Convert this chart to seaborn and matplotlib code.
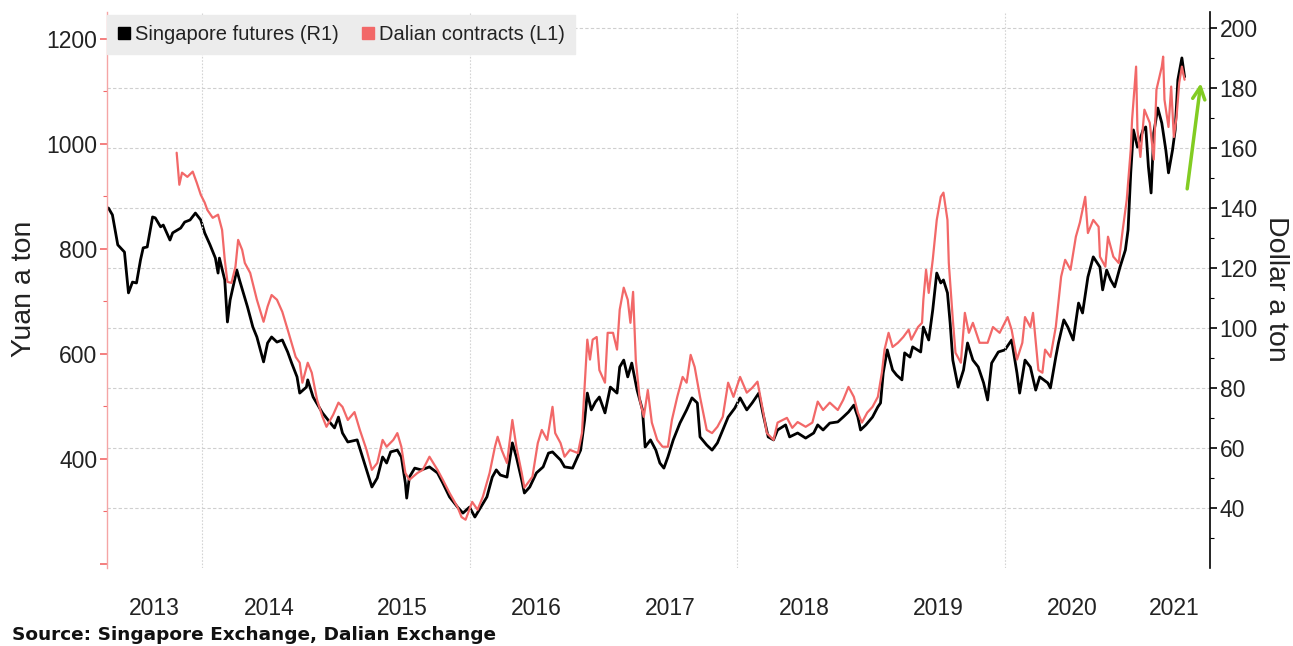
import pandas as pd
import matplotlib
matplotlib.use("Agg")
import matplotlib.pyplot as plt
from matplotlib.lines import Line2D
from matplotlib.ticker import FixedLocator, MultipleLocator
import seaborn as sns

# --- data (decimal year, price) ---
# Singapore iron ore futures, USD a ton (right axis)
sgx_points = [
    (2013.30, 140.0), (2013.33, 137.7), (2013.36, 130.3), (2013.37, 127.7), (2013.42, 125.3),
    (2013.45, 111.7), (2013.48, 115.3), (2013.51, 115.0), (2013.54, 122.7), (2013.56, 126.7),
    (2013.59, 127.0), (2013.63, 137.0), (2013.65, 136.7), (2013.69, 133.7), (2013.71, 134.3),
    (2013.76, 129.3), (2013.78, 131.7), (2013.84, 133.3), (2013.87, 135.3), (2013.91, 136.0),
    (2013.95, 138.3), (2013.99, 136.0), (2014.02, 131.7), (2014.06, 127.7), (2014.10, 123.3),
    (2014.12, 118.3), (2014.13, 123.3), (2014.17, 116.0), (2014.19, 102.0), (2014.21, 109.3),
    (2014.26, 119.3), (2014.28, 116.0), (2014.34, 107.0), (2014.38, 100.3), (2014.41, 97.0),
    (2014.46, 88.7), (2014.49, 95.0), (2014.52, 97.0), (2014.56, 95.3), (2014.60, 96.0),
    (2014.64, 92.0), (2014.67, 88.3), (2014.71, 83.7), (2014.73, 78.3), (2014.78, 80.3),
    (2014.79, 82.7), (2014.83, 77.0), (2014.90, 71.7), (2014.96, 68.3), (2014.99, 66.7),
    (2015.02, 70.3), (2015.05, 65.0), (2015.09, 62.0), (2015.16, 62.7), (2015.20, 57.0),
    (2015.23, 52.7), (2015.27, 47.0), (2015.31, 50.0), (2015.35, 57.0), (2015.38, 55.0),
    (2015.41, 58.7), (2015.46, 59.3), (2015.49, 57.0), (2015.52, 48.3), (2015.53, 43.3),
    (2015.55, 50.3), (2015.59, 53.3), (2015.64, 52.7), (2015.70, 53.7), (2015.76, 51.7),
    (2015.80, 48.3), (2015.85, 43.7), (2015.91, 40.3), (2015.95, 38.3), (2016.00, 40.3),
    (2016.04, 37.0), (2016.08, 40.0), (2016.13, 43.7), (2016.17, 50.3), (2016.20, 52.7),
    (2016.23, 51.0), (2016.28, 50.3), (2016.32, 61.7), (2016.35, 57.0), (2016.39, 49.3),
    (2016.41, 45.0), (2016.45, 47.0), (2016.50, 51.7), (2016.55, 53.7), (2016.59, 58.3),
    (2016.62, 58.7), (2016.68, 56.0), (2016.71, 53.7), (2016.77, 53.3), (2016.83, 59.3),
    (2016.86, 69.3), (2016.88, 78.3), (2016.91, 72.7), (2016.94, 75.3), (2016.97, 77.0),
    (2017.01, 71.7), (2017.05, 80.3), (2017.10, 78.3), (2017.12, 87.0), (2017.15, 89.3),
    (2017.18, 83.7), (2017.21, 88.3), (2017.25, 79.3), (2017.29, 72.7), (2017.31, 60.3),
    (2017.35, 62.7), (2017.39, 59.3), (2017.42, 55.0), (2017.45, 53.3), (2017.48, 57.0),
    (2017.52, 62.7), (2017.57, 68.3), (2017.62, 72.7), (2017.66, 76.7), (2017.70, 75.0),
    (2017.72, 63.7), (2017.77, 61.0), (2017.81, 59.3), (2017.85, 61.7), (2017.89, 66.0),
    (2017.93, 70.3), (2017.98, 73.3), (2018.02, 76.7), (2018.07, 72.7), (2018.11, 75.0),
    (2018.16, 78.3), (2018.19, 71.7), (2018.23, 63.7), (2018.27, 62.7), (2018.30, 66.0),
    (2018.36, 67.7), (2018.39, 63.7), (2018.45, 65.0), (2018.51, 63.3), (2018.57, 65.0),
    (2018.60, 67.7), (2018.64, 66.0), (2018.69, 68.3), (2018.75, 68.7), (2018.79, 70.3),
    (2018.83, 72.0), (2018.87, 74.3), (2018.90, 70.3), (2018.92, 66.0), (2018.96, 67.7),
    (2019.01, 70.3), (2019.05, 73.7), (2019.07, 75.0), (2019.09, 85.0), (2019.12, 92.7),
    (2019.16, 86.0), (2019.19, 84.3), (2019.23, 82.7), (2019.25, 91.7), (2019.29, 90.3),
    (2019.31, 93.7), (2019.37, 92.0), (2019.39, 100.3), (2019.43, 96.0), (2019.46, 106.0),
    (2019.49, 118.3), (2019.52, 115.0), (2019.54, 116.0), (2019.57, 111.7), (2019.59, 101.7),
    (2019.61, 89.3), (2019.65, 80.3), (2019.69, 86.0), (2019.72, 95.0), (2019.76, 89.3),
    (2019.80, 87.0), (2019.84, 81.7), (2019.87, 76.0), (2019.90, 88.3), (2019.95, 92.0),
    (2020.00, 92.7), (2020.05, 96.0), (2020.09, 85.0), (2020.11, 78.3), (2020.15, 89.3),
    (2020.19, 87.0), (2020.23, 79.3), (2020.26, 83.7), (2020.32, 81.7), (2020.34, 80.0),
    (2020.38, 90.3), (2020.40, 95.0), (2020.44, 102.7), (2020.47, 100.3), (2020.51, 96.0),
    (2020.55, 108.3), (2020.58, 105.0), (2020.62, 117.0), (2020.66, 123.7), (2020.71, 120.3),
    (2020.73, 112.7), (2020.76, 119.3), (2020.79, 116.0), (2020.82, 113.7), (2020.86, 120.3),
    (2020.90, 126.0), (2020.92, 132.7), (2020.94, 151.7), (2020.96, 166.0), (2020.99, 160.3),
    (2021.03, 166.0), (2021.05, 167.0), (2021.07, 153.7), (2021.09, 145.0), (2021.11, 165.0),
    (2021.14, 173.3), (2021.17, 168.3), (2021.20, 159.3), (2021.22, 151.7), (2021.25, 159.3),
    (2021.27, 166.0), (2021.29, 182.7), (2021.32, 190.0), (2021.34, 183.7),
]

# Dalian iron ore contracts, yuan a ton (left axis)
dce_points = [
    (2013.81, 983), (2013.83, 922), (2013.85, 945), (2013.89, 937), (2013.93, 947),
    (2013.96, 926), (2013.99, 903), (2014.02, 888), (2014.04, 874), (2014.08, 859),
    (2014.12, 865), (2014.15, 836), (2014.17, 779), (2014.19, 737), (2014.22, 735),
    (2014.25, 766), (2014.27, 817), (2014.30, 798), (2014.32, 773), (2014.36, 754),
    (2014.41, 703), (2014.46, 661), (2014.49, 690), (2014.52, 712), (2014.56, 703),
    (2014.60, 680), (2014.64, 646), (2014.70, 594), (2014.73, 583), (2014.75, 545),
    (2014.79, 583), (2014.82, 564), (2014.86, 512), (2014.90, 480), (2014.93, 461),
    (2014.98, 484), (2015.02, 507), (2015.05, 499), (2015.09, 474), (2015.14, 489),
    (2015.18, 455), (2015.23, 417), (2015.27, 379), (2015.31, 392), (2015.35, 436),
    (2015.38, 423), (2015.43, 436), (2015.46, 449), (2015.49, 423), (2015.52, 373),
    (2015.55, 360), (2015.61, 373), (2015.65, 379), (2015.70, 404), (2015.76, 379),
    (2015.80, 360), (2015.85, 335), (2015.91, 308), (2015.94, 289), (2015.97, 284),
    (2016.02, 318), (2016.06, 303), (2016.10, 328), (2016.15, 373), (2016.19, 423),
    (2016.21, 442), (2016.24, 417), (2016.28, 392), (2016.32, 474), (2016.35, 423),
    (2016.39, 373), (2016.41, 345), (2016.47, 366), (2016.51, 430), (2016.54, 455),
    (2016.58, 436), (2016.62, 499), (2016.64, 449), (2016.68, 430), (2016.71, 404),
    (2016.75, 417), (2016.81, 411), (2016.84, 449), (2016.88, 627), (2016.90, 589),
    (2016.92, 627), (2016.95, 632), (2016.97, 569), (2017.01, 545), (2017.03, 640),
    (2017.07, 640), (2017.10, 608), (2017.12, 684), (2017.15, 726), (2017.18, 703),
    (2017.20, 659), (2017.22, 718), (2017.24, 589), (2017.27, 512), (2017.30, 480),
    (2017.33, 531), (2017.36, 469), (2017.40, 436), (2017.44, 423), (2017.48, 423),
    (2017.51, 474), (2017.55, 518), (2017.59, 556), (2017.62, 545), (2017.65, 598),
    (2017.68, 575), (2017.72, 518), (2017.77, 455), (2017.81, 449), (2017.85, 461),
    (2017.89, 480), (2017.93, 545), (2017.97, 518), (2018.02, 556), (2018.07, 526),
    (2018.11, 535), (2018.15, 547), (2018.19, 493), (2018.22, 449), (2018.27, 436),
    (2018.30, 469), (2018.37, 478), (2018.41, 459), (2018.45, 470), (2018.51, 461),
    (2018.56, 469), (2018.60, 509), (2018.64, 493), (2018.69, 507), (2018.75, 493),
    (2018.79, 512), (2018.83, 537), (2018.87, 518), (2018.90, 488), (2018.93, 469),
    (2018.97, 488), (2019.01, 499), (2019.05, 518), (2019.08, 564), (2019.10, 608),
    (2019.13, 640), (2019.16, 613), (2019.20, 621), (2019.24, 632), (2019.28, 646),
    (2019.30, 627), (2019.35, 651), (2019.38, 659), (2019.39, 703), (2019.41, 760),
    (2019.43, 716), (2019.46, 779), (2019.49, 855), (2019.52, 899), (2019.54, 907),
    (2019.57, 855), (2019.58, 773), (2019.61, 665), (2019.63, 602), (2019.67, 583),
    (2019.70, 678), (2019.73, 640), (2019.76, 659), (2019.81, 621), (2019.87, 621),
    (2019.91, 651), (2019.96, 640), (2020.02, 670), (2020.05, 646), (2020.09, 589),
    (2020.13, 621), (2020.15, 670), (2020.19, 651), (2020.21, 678), (2020.25, 569),
    (2020.28, 564), (2020.30, 608), (2020.34, 594), (2020.38, 651), (2020.42, 747),
    (2020.45, 779), (2020.49, 760), (2020.53, 823), (2020.56, 850), (2020.60, 899),
    (2020.62, 830), (2020.66, 855), (2020.70, 842), (2020.71, 785), (2020.75, 766),
    (2020.77, 823), (2020.81, 785), (2020.85, 773), (2020.88, 836), (2020.91, 893),
    (2020.94, 989), (2020.95, 1046), (2020.98, 1147), (2020.99, 1027), (2021.01, 975),
    (2021.04, 1065), (2021.08, 1040), (2021.11, 970), (2021.13, 1103), (2021.17, 1147),
    (2021.18, 1166), (2021.19, 1084), (2021.22, 1032), (2021.24, 1109), (2021.26, 1013),
    (2021.28, 1051), (2021.30, 1116), (2021.32, 1147), (2021.34, 1122),
]

year_labels = ["2013", "2014", "2015", "2016", "2017", "2018", "2019", "2020", "2021"]
grid_years = [2014, 2016, 2018, 2020]
x_range = (2013.29, 2021.53)
yuan_ticks = [200, 400, 600, 800, 1000, 1200]
dollar_ticks = [40, 60, 80, 100, 120, 140, 160, 180, 200]


def to_date(y):
    base = pd.Timestamp(int(y), 1, 1)
    return base + pd.Timedelta(days=(y - int(y)) * 365.25)


sgx = pd.DataFrame(sgx_points, columns=["year", "price"])
sgx["date"] = sgx["year"].apply(to_date)
dce = pd.DataFrame(dce_points, columns=["year", "price"])
dce["date"] = dce["year"].apply(to_date)

sns.set_style("white")
plt.rcParams["font.family"] = ["Liberation Sans", "DejaVu Sans"]

RED = "#f26868"
TXT = "#222222"
fig = plt.figure(figsize=(12.93, 6.46), dpi=100)
ax = fig.add_axes([0.0828, 0.1207, 0.853, 0.8607])
ax2 = ax.twinx()

sns.lineplot(data=sgx, x="date", y="price", ax=ax2, color="black", linewidth=2.0,
             estimator=None, sort=False)
sns.lineplot(data=dce, x="date", y="price", ax=ax, color=RED, linewidth=1.6,
             estimator=None, sort=False)
ax.set_zorder(ax2.get_zorder() + 1)
ax.patch.set_visible(False)

x0, x1 = to_date(x_range[0]), to_date(x_range[1])
ax.set_xlim(x0, x1)
ax.set_ylim(192, 1251)
ax2.set_ylim(20, 205.3)

# grid: horizontal from the dollar axis, vertical every two years
ax2.grid(axis="y", color="#cfcfcf", linestyle=(0, (3, 2)), linewidth=0.8)
for gy in grid_years:
    ax2.axvline(to_date(gy), color="#d4d4d4", linestyle=(0, (1.5, 1.5)), linewidth=0.8)

# year labels centred on the visible part of each year
lab_pos = []
for lab in year_labels:
    y0 = max(pd.Timestamp(int(lab), 1, 1), x0)
    y1 = min(pd.Timestamp(int(lab) + 1, 1, 1), x1)
    lab_pos.append(y0 + (y1 - y0) / 2)
ax.set_xticks(lab_pos)
ax.set_xticklabels(year_labels)
ax.tick_params(axis="x", length=0, pad=21, labelsize=16.5, labelcolor=TXT)
ax.set_xlabel("")

ax.set_yticks(yuan_ticks)
ax.set_yticklabels([""] + [str(t) for t in yuan_ticks[1:]])
ax.yaxis.set_minor_locator(MultipleLocator(100))
ax.tick_params(axis="y", which="major", direction="out", length=5, width=1.2,
               color=RED, labelsize=16.5, labelcolor=TXT, pad=2)
ax.tick_params(axis="y", which="minor", direction="out", length=3, width=0.8, color=RED)
ax.set_ylabel("")

ax2.set_yticks(dollar_ticks)
ax2.yaxis.set_minor_locator(FixedLocator(list(range(30, 201, 20))))
ax2.tick_params(axis="y", which="major", direction="out", length=5, width=1.2,
                color="black", labelsize=16.5, labelcolor=TXT, pad=2)
ax2.tick_params(axis="y", which="minor", direction="out", length=3, width=0.8, color="black")
ax2.set_ylabel("")

fig.text(24 / 1293, 1 - 289 / 646, "Yuan a ton", rotation=90, fontsize=20.5,
         color=TXT, ha="center", va="center")
fig.text(1276 / 1293, 1 - 289 / 646, "Dollar a ton", rotation=270, fontsize=20.5,
         color=TXT, ha="center", va="center")

for s in ["top", "bottom", "right"]:
    ax.spines[s].set_visible(False)
ax.spines["left"].set_color("#f5a5a5")
ax.spines["left"].set_linewidth(1.0)
for s in ["top", "bottom", "left"]:
    ax2.spines[s].set_visible(False)
ax2.spines["right"].set_color("black")
ax2.spines["right"].set_linewidth(1.2)

handles = [
    Line2D([], [], marker="s", linestyle="None", markerfacecolor="black",
           markeredgecolor="black", markersize=9),
    Line2D([], [], marker="s", linestyle="None", markerfacecolor=RED,
           markeredgecolor=RED, markersize=9),
]
leg = ax.legend(handles, ["Singapore futures (R1)", "Dalian contracts (L1)"],
                loc="upper left", bbox_to_anchor=(0.0, 0.995), ncol=2, frameon=True,
                facecolor="#ececec", edgecolor="#ececec", framealpha=1, fancybox=False,
                fontsize=14.5, handlelength=0.7, handletextpad=0.2, columnspacing=1.1,
                borderpad=0.5, borderaxespad=0.0)
for t in leg.get_texts():
    t.set_color(TXT)

# green arrow pointing at the latest rally
ax.annotate("", xy=(0.992, 0.877), xytext=(0.979, 0.677), xycoords="axes fraction",
            arrowprops=dict(arrowstyle="->", color="#82cc22", lw=2.5, mutation_scale=22))

fig.text(0.009, 0.017, "Source: Singapore Exchange, Dalian Exchange", fontsize=13.3,
         fontweight="bold", family="DejaVu Sans", color="#111111", va="center")

fig.savefig("out.png", dpi=100, facecolor="white")
